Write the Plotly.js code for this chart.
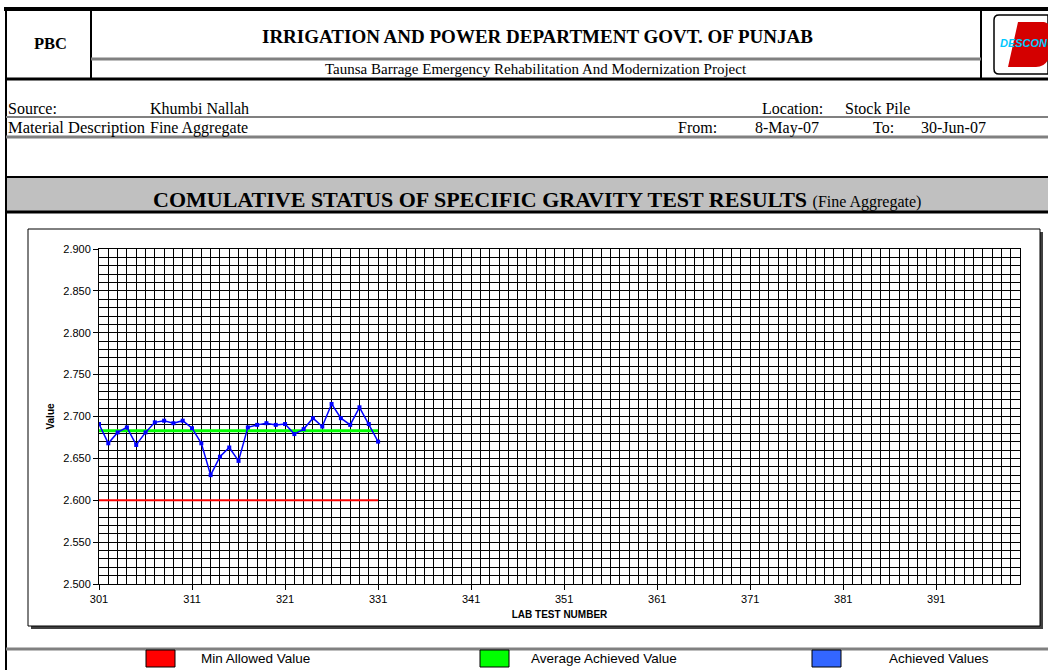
<!DOCTYPE html>
<html>
<head>
<meta charset="utf-8">
<script src="https://cdn.plot.ly/plotly-3.0.1.min.js"></script>
<style>
html,body{margin:0;padding:0;background:#fff;overflow:hidden;}
#chart{width:1048px;height:670px;}
</style>
</head>
<body>
<div id="chart"></div>
<script>
// ---- Data ----
const testNumbers = [301,302,303,304,305,306,307,308,309,310,311,312,313,314,315,316,317,318,319,320,321,322,323,324,325,326,327,328,329,330,331];
const achievedValues = [2.691,2.668,2.681,2.687,2.666,2.681,2.693,2.695,2.692,2.695,2.686,2.668,2.630,2.652,2.663,2.647,2.687,2.690,2.692,2.690,2.691,2.679,2.685,2.698,2.688,2.715,2.698,2.690,2.711,2.691,2.670];
const averageValue = 2.683;
const minAllowedValue = 2.600;
const lineStart = [301, 331];
const xTickValues = [301,311,321,331,341,351,361,371,381,391];
const yTickValues = [2.50,2.55,2.60,2.65,2.70,2.75,2.80,2.85,2.90];
const legendLabels = ['Min Allowed Value','Average Achieved Value','Achieved Values'];

// ---- Geometry helpers (page layout, pixels -> paper) ----
const L=99, R=1020, T=249, B=584;
const W=R-L, H=B-T;
const px = x => (x-L)/W;
const py = y => (B-y)/H;
const serif = 'Liberation Serif, Times New Roman, serif';
const sans = 'Liberation Sans, Arial, sans-serif';

function hline(y, x0, x1, color, width){
  return {type:'line', xref:'paper', yref:'paper', x0:px(x0), x1:px(x1), y0:py(y), y1:py(y), line:{color:color, width:width}, layer:'above'};
}
function vline(x, y0, y1, color, width){
  return {type:'line', xref:'paper', yref:'paper', x0:px(x), x1:px(x), y0:py(y0), y1:py(y1), line:{color:color, width:width}, layer:'above'};
}
function rect(x0,y0,x1,y1,fill,lineColor,lw,layer){
  return {type:'rect', xref:'paper', yref:'paper', x0:px(x0), x1:px(x1), y0:py(y0), y1:py(y1), fillcolor:fill, line:{color:lineColor||fill, width:lw||0}, layer:layer||'above'};
}
function txt(text, x, y, size, family, xanchor, opts){
  const xs = (xanchor==='left') ? -2 : (xanchor==='right' ? 2 : 0);
  return Object.assign({text:text, xref:'paper', yref:'paper', x:px(x), y:py(y), showarrow:false, xshift:xs,
    xanchor:xanchor||'left', yanchor:'middle', font:{size:size, family:family, color:'#000'}}, opts||{});
}

const shapes = [
  // chart box (with shadow)
  rect(31,232,1043,629,'#404040','#404040',0,'below'),
  rect(28,229,1040,626,'#ffffff','#000000',1,'below'),
  // section title band
  rect(6,178,1048,212,'#c0c0c0','#c0c0c0',0,'below'),
  hline(177,6,1048,'#000',2),
  hline(212,6,1048,'#000',3),
  // header frame
  hline(9,4,1048,'#000',4),
  vline(6,9,670,'#000',2),
  vline(91,9,79,'#000',2),
  vline(981,9,79,'#000',2),
  hline(59,91,981,'#808080',3),
  hline(79,6,1048,'#000',3),
  hline(117,6,1048,'#808080',2),
  hline(137,6,1048,'#808080',3),
  // legend strip
  hline(649,6,1048,'#808080',3),
  rect(146,650,175,667,'#ff0000','#000',1),
  rect(480,650,509,667,'#00ff00','#000',1),
  rect(812,650,841,667,'#3366ff','#000',1),
  // logo
  {type:'path', xref:'paper', yref:'paper',
   path:'M '+px(999)+','+py(15)+' L '+px(1048)+','+py(15)+' L '+px(1048)+','+py(74)+' L '+px(999)+','+py(74)+' Q '+px(994)+','+py(74)+' '+px(994)+','+py(69)+' L '+px(994)+','+py(20)+' Q '+px(994)+','+py(15)+' '+px(999)+','+py(15)+' Z',
   fillcolor:'#ffffff', line:{color:'#000', width:1.5}, layer:'above'},
  {type:'path', xref:'paper', yref:'paper',
   path:'M '+px(1018)+','+py(22)+' L '+px(1044)+','+py(22)+' Q '+px(1052)+','+py(24)+' '+px(1050)+','+py(35)+' L '+px(1047)+','+py(45)+' Q '+px(1052)+','+py(50)+' '+px(1048)+','+py(60)+' Q '+px(1044)+','+py(67)+' '+px(1036)+','+py(67)+' L '+px(1008)+','+py(67)+' Z',
   fillcolor:'#d40000', line:{color:'#d40000', width:0}, layer:'above'}
];

const annotations = [
  txt('<b>PBC</b>', 50, 43, 16.5, serif, 'center'),
  txt('<b>IRRIGATION AND POWER DEPARTMENT GOVT. OF PUNJAB</b>', 537, 36, 19, serif, 'center'),
  txt('Taunsa Barrage Emergency Rehabilitation And Modernization Project', 536, 69, 15, serif, 'center'),
  txt('<i><b>DESCON</b></i>', 1024, 43, 11, sans, 'center', {font:{size:11, family:sans, color:'#00c8ff'}}),
  txt('Source:', 8, 108, 16, serif, 'left'),
  txt('Khumbi Nallah', 150, 108, 16, serif, 'left'),
  txt('Location:', 823, 108, 16, serif, 'right'),
  txt('Stock Pile', 845, 108, 16, serif, 'left'),
  txt('Material Description', 8, 128, 16.5, serif, 'left'),
  txt('Fine Aggregate', 150, 128, 16, serif, 'left'),
  txt('From:', 678, 128, 16, serif, 'left'),
  txt('8-May-07', 755, 128, 16, serif, 'left'),
  txt('To:', 873, 128, 16, serif, 'left'),
  txt('30-Jun-07', 921, 128, 16, serif, 'left'),
  txt('<b>COMULATIVE STATUS OF SPECIFIC GRAVITY TEST RESULTS</b> <span style="font-size:16px">(Fine Aggregate)</span>', 537, 199, 22, serif, 'center'),
  txt(legendLabels[0], 255, 658, 13.5, sans, 'center'),
  txt(legendLabels[1], 604, 658, 13.5, sans, 'center'),
  txt(legendLabels[2], 939, 658, 13.5, sans, 'center')
];

const traces = [
  {x: lineStart, y: [minAllowedValue, minAllowedValue], type:'scatter', mode:'lines', name:legendLabels[0],
   line:{color:'#ff0000', width:2}, hoverinfo:'skip'},
  {x: lineStart, y: [averageValue, averageValue], type:'scatter', mode:'lines', name:legendLabels[1],
   line:{color:'#00ff00', width:3}, hoverinfo:'skip'},
  {x: testNumbers, y: achievedValues, type:'scatter', mode:'lines+markers', name:legendLabels[2],
   line:{color:'#0000ff', width:1.5}, marker:{symbol:'square', size:4, color:'#0000ff'}}
];

const layout = {
  width:1048, height:670,
  margin:{l:L, r:1048-R, t:T, b:670-B, pad:0},
  paper_bgcolor:'rgba(0,0,0,0)', plot_bgcolor:'#ffffff',
  showlegend:false,
  font:{family:sans, color:'#000'},
  xaxis:{
    range:[301,400], tickvals:xTickValues, ticktext:xTickValues.map(String),
    ticks:'outside', ticklen:5, tickcolor:'#000', tickfont:{size:11, family:sans},
    showgrid:true, gridcolor:'#000', gridwidth:1,
    minor:{dtick:1, tick0:301, showgrid:true, gridcolor:'#000', gridwidth:1, ticks:''},
    showline:true, linecolor:'#000', linewidth:1, mirror:true, zeroline:false,
    title:{text:'<b>LAB TEST NUMBER</b>', font:{size:10, family:sans}, standoff:6}
  },
  yaxis:{
    range:[2.5,2.9], tickvals:yTickValues, tickformat:'.3f',
    ticks:'outside', ticklen:5, tickcolor:'#000', tickfont:{size:11, family:sans},
    showgrid:true, gridcolor:'#000', gridwidth:1,
    minor:{dtick:0.01, tick0:2.5, showgrid:true, gridcolor:'#000', gridwidth:1, ticks:''},
    showline:true, linecolor:'#000', linewidth:1, mirror:true, zeroline:false,
    title:{text:'<b>Value</b>', font:{size:10, family:sans}, standoff:6}
  },
  shapes:shapes,
  annotations:annotations
};

Plotly.newPlot('chart', traces, layout, {displayModeBar:false, staticPlot:true});
</script>
</body>
</html>
